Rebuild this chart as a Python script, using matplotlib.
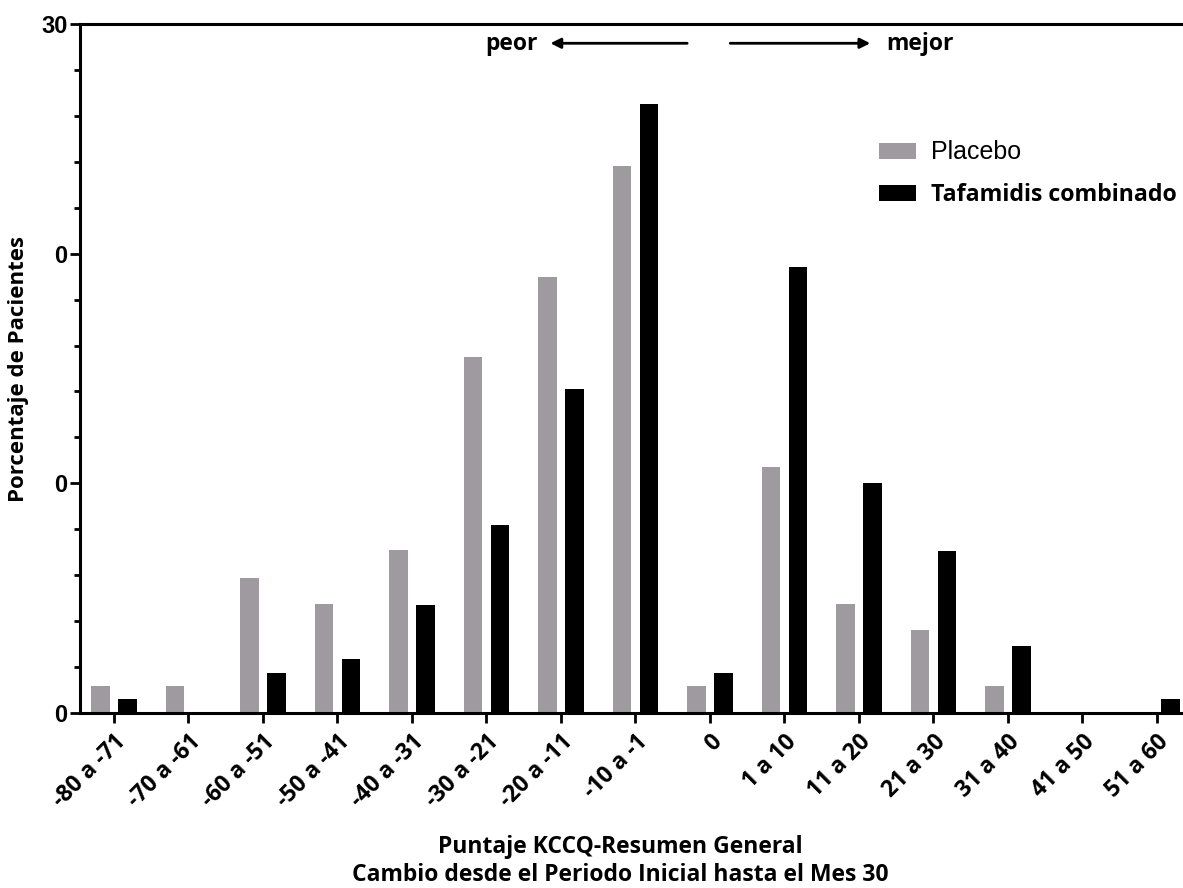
import numpy as np
import matplotlib.pyplot as plt
from matplotlib.ticker import FixedLocator, FixedFormatter, MultipleLocator

categories = ['-80 a -71', '-70 a -61', '-60 a -51', '-50 a -41', '-40 a -31',
              '-30 a -21', '-20 a -11', '-10 a -1', '0', '1 a 10', '11 a 20',
              '21 a 30', '31 a 40', '41 a 50', '51 a 60']
placebo = [1.2, 1.2, 5.9, 4.75, 7.1, 15.5, 19.0, 23.8, 1.2, 10.7, 4.75, 3.6, 1.2, 0, 0]
tafamidis = [0.6, 0, 1.75, 2.35, 4.7, 8.2, 14.1, 26.5, 1.75, 19.4, 10.0, 7.05, 2.9, 0, 0.6]
ytick_vals = [0, 10, 20, 30]
ytick_labels = ['0', '0', '0', '30']

gray = '#9f9a9f'
bold_font = 'Open Sans'

fig = plt.figure(figsize=(11.83, 8.88), dpi=100)
ax = fig.add_axes([0.0676, 0.197, 0.9324, 0.776])

x = np.arange(len(categories))
w = 0.25
ax.bar(x - 0.18, placebo, width=w, color=gray, label='Placebo', zorder=2)
ax.bar(x + 0.18, tafamidis, width=w, color='black', label='Tafamidis combinado', zorder=2)

ax.set_xlim(-0.456, 14.35)
ax.set_ylim(0, 30)

ax.spines['right'].set_visible(False)
for s in ['left', 'bottom', 'top']:
    ax.spines[s].set_linewidth(2.2)

ax.yaxis.set_major_locator(FixedLocator(ytick_vals))
ax.yaxis.set_major_formatter(FixedFormatter(ytick_labels))
ax.yaxis.set_minor_locator(MultipleLocator(2))
ax.tick_params(axis='y', which='major', length=7, width=2, labelsize=17, pad=2)
ax.tick_params(axis='y', which='minor', length=4, width=2)
for t in ax.get_yticklabels():
    t.set_fontfamily('Liberation Sans')
    t.set_fontweight('bold')

ax.set_xticks(x)
ax.set_xticklabels(categories, rotation=45, ha='right', rotation_mode='anchor',
                   fontsize=16.5, fontweight='bold', family=bold_font)
ax.tick_params(axis='x', length=7, width=2, pad=5)

ax.set_ylabel('Porcentaje de Pacientes', fontsize=16, fontweight='bold', family=bold_font)
ax.yaxis.set_label_coords(-0.046, 0.5)

fig.text(0.524, 0.046, 'Puntaje KCCQ-Resumen General', ha='center', va='center',
         fontsize=16.5, fontweight='bold', family=bold_font)
fig.text(0.524, 0.015, 'Cambio desde el Periodo Inicial hasta el Mes 30', ha='center',
         va='center', fontsize=16.5, fontweight='bold', family=bold_font)

# arrows at top
ax.annotate('', xy=(0.424, 0.972), xytext=(0.553, 0.972), xycoords='axes fraction',
            arrowprops=dict(arrowstyle='-|>', color='black', lw=2, mutation_scale=15))
ax.annotate('', xy=(0.719, 0.972), xytext=(0.587, 0.972), xycoords='axes fraction',
            arrowprops=dict(arrowstyle='-|>', color='black', lw=2, mutation_scale=15))
ax.text(0.415, 0.971, 'peor', transform=ax.transAxes, ha='right', va='center',
        fontsize=16.5, fontweight='bold', family=bold_font)
ax.text(0.731, 0.971, 'mejor', transform=ax.transAxes, ha='left', va='center',
        fontsize=16.5, fontweight='bold', family=bold_font)

leg = ax.legend(loc='upper left', bbox_to_anchor=(0.706, 0.862), frameon=False,
                handlelength=1.6, handleheight=0.7, handletextpad=0.65, labelspacing=0.85,
                fontsize=16.5)
leg.get_texts()[0].set_fontfamily('Liberation Sans')
leg.get_texts()[0].set_fontsize(18)
leg.get_texts()[1].set_fontfamily(bold_font)
leg.get_texts()[1].set_fontweight('bold')
leg.get_texts()[1].set_fontsize(16.7)

fig.savefig('out.png', dpi=100)
